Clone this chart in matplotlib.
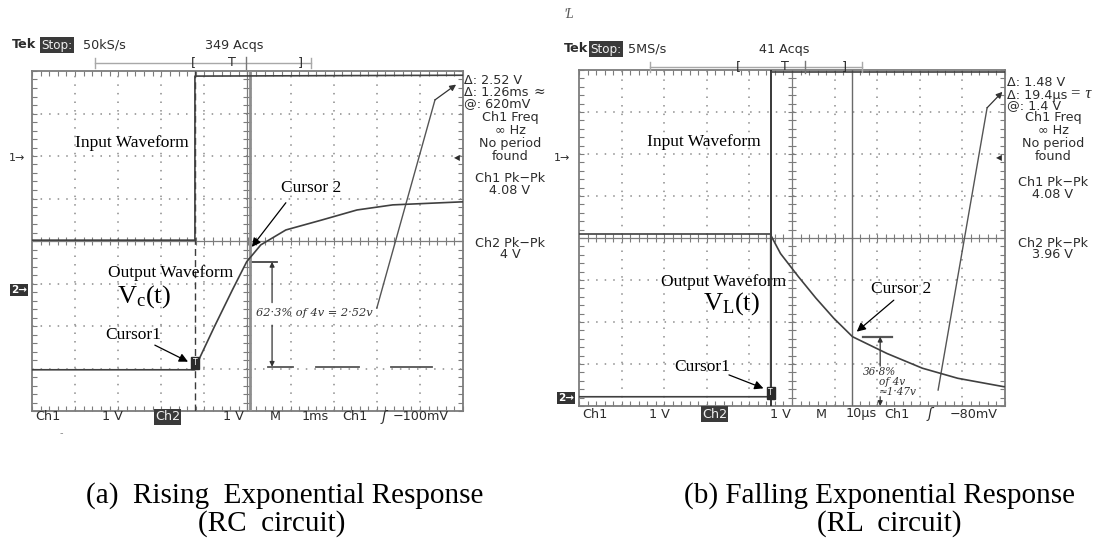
import numpy as np
import matplotlib.pyplot as plt
from matplotlib.lines import Line2D

plt.rcParams['mathtext.fontset'] = 'custom'
plt.rcParams['mathtext.rm'] = 'Liberation Serif'
plt.rcParams['mathtext.it'] = 'Liberation Serif:italic'

W, H = 1106, 550

# --- scope (a) RC circuit : x = screen divisions (1 ms/div), y = divisions ---
rc_in_t = [0.0, 3.78, 3.78, 10.0]
rc_in_v = [4.02, 4.02, 7.88, 7.90]
rc_out_t = [0.0, 3.78, 3.90, 4.23, 4.65, 4.98, 5.31, 5.89, 6.71, 7.54, 8.37, 9.95, 10.0]
rc_out_v = [0.97, 0.97, 1.27, 1.98, 2.85, 3.51, 3.91, 4.26, 4.49, 4.73, 4.85, 4.92, 4.92]
rc_cursor_t = [3.78, 5.06]
rc_cursor_v = [1.04, 3.51]
rc_ref_segs = [(5.48, 6.06), (6.59, 7.59), (8.33, 9.28)]

# --- scope (b) RL circuit : x = divisions (10 us/div) ---
rl_in_t = [0.0, 4.50, 4.50, 10.0]
rl_in_v = [4.10, 4.10, 7.95, 7.95]
rl_out_t = [0.0, 4.50, 4.50, 4.73, 5.15, 5.56, 5.98, 6.42, 7.23, 8.06, 8.89, 9.97, 10.0]
rl_out_v = [0.22, 0.22, 4.07, 3.63, 3.08, 2.57, 2.09, 1.65, 1.25, 0.90, 0.66, 0.46, 0.46]
rl_cursor_t = [4.50, 6.42]
rl_cursor_v = [0.0, 1.65]

rc_readout = ["Δ: 2.52 V", "Δ: 1.26ms", "@: 620mV"]
rl_readout = ["Δ: 1.48 V", "Δ: 19.4µs", "@: 1.4 V"]
freq_lines = ["Ch1 Freq", "∞ Hz", "No period", "found"]
rc_pkpk = ["Ch1 Pk−Pk", "4.08 V", "Ch2 Pk−Pk", "4 V"]
rl_pkpk = ["Ch1 Pk−Pk", "4.08 V", "Ch2 Pk−Pk", "3.96 V"]
rc_bottom = ["Ch1", "1 V", "Ch2", "1 V", "M", "1ms", "Ch1", "ʃ", "−100mV"]
rl_bottom = ["Ch1", "1 V", "Ch2", "1 V", "M", "10µs", "Ch1", "ʃ", "−80mV"]

TRACE = '#404040'
GRID = '#8c8c8c'
FRAME = '#7c7c7c'
SCOPE_FONT = dict(family='DejaVu Sans', fontsize=9.2, color='#2c2c2c')
SERIF = 'Liberation Serif'

fig = plt.figure(figsize=(W / 100, H / 100), dpi=100)
fig.patch.set_facecolor('white')


def px(x, y):
    return x / W, 1 - y / H


def ftext(x, y, s, **kw):
    opts = dict(SCOPE_FONT)
    opts.setdefault('va', 'center')
    opts.update(kw)
    return fig.text(*px(x, y), s, **opts)


def fline(xs, ys, **kw):
    fig.add_artist(Line2D([x / W for x in xs], [1 - y / H for y in ys], **kw))


def graticule(ax):
    ax.set_xlim(0, 10)
    ax.set_ylim(0, 8)
    for s in ax.spines.values():
        s.set_color(FRAME)
        s.set_linewidth(1.3)
    ax.set_xticks(np.arange(0, 10.01, 0.2))
    ax.set_yticks(np.arange(0, 8.01, 0.2))
    ax.tick_params(direction='in', length=3.5, width=0.8, color=FRAME,
                   top=True, right=True, labelbottom=False, labelleft=False)
    for i in range(1, 10):
        if i != 5:
            ax.axvline(i, color=GRID, lw=1.1, ls=(0, (1, 4.6)))
    for j in range(1, 8):
        if j != 4:
            ax.axhline(j, color=GRID, lw=1.1, ls=(0, (1, 4.6)))
    ax.axvline(5, color=FRAME, lw=0.9)
    ax.axhline(4, color=FRAME, lw=0.9)
    tx = np.arange(0.2, 10, 0.2)
    ax.plot(tx, np.full_like(tx, 4), ls='none', marker='|', ms=6, mew=0.8, color=FRAME)
    ty = np.arange(0.2, 8, 0.2)
    ax.plot(np.full_like(ty, 5), ty, ls='none', marker='_', ms=6, mew=0.8, color=FRAME)


def tbox(ax, x, y):
    ax.text(x, y, 'T', fontsize=5.5, color='white', ha='center', va='center',
            family='DejaVu Sans', zorder=6,
            bbox=dict(boxstyle='square,pad=0.2', fc='#2a2a2a', ec='#2a2a2a'))


def label_arrow(ax, tail, tip):
    ax.annotate('', xy=tip, xytext=tail, annotation_clip=False,
                arrowprops=dict(arrowstyle='-|>', color='black', lw=0.9,
                                mutation_scale=13, shrinkA=0, shrinkB=0))


def small_arrow(ax, tail, tip, ms=7):
    ax.annotate('', xy=tip, xytext=tail, annotation_clip=False,
                arrowprops=dict(arrowstyle='-|>', color='#333333', lw=0.9,
                                mutation_scale=ms, shrinkA=0, shrinkB=0))


def header(xs, y, rate, acqs_x, acqs, bar):
    ftext(xs[0], y, "Tek", weight='bold')
    ftext(xs[1], y, "Stop:", color='#f0f0f0', fontsize=8.6,
          bbox=dict(boxstyle='square,pad=0.12', fc='#3a3a3a', ec='none'))
    ftext(xs[2], y, rate)
    ftext(acqs_x, y, acqs)
    bx0, bx1, by, lb, tt, bar_mark, rb = bar
    fline([bx0, bx1], [by, by], color='#a8a8a8', lw=1.0)
    fline([bx0, bx0], [by - 5, by + 5], color='#a8a8a8', lw=1.0)
    fline([bx1, bx1], [by - 5, by + 5], color='#a8a8a8', lw=1.0)
    fline([bar_mark, bar_mark], [by - 6, by + 6], color='#777777', lw=1.0)
    ftext(lb, by, "[", ha='center')
    ftext(rb, by, "]", ha='center')
    ftext(tt, by, "T", ha='center')


def readout(x_left, x_mid, ys, lines3, pkpk):
    for y, s in zip(ys[:3], lines3):
        ftext(x_left, y, s)
    for y, s in zip(ys[3:7], freq_lines):
        ftext(x_mid, y, s, ha='center')
    for y, s in zip(ys[7:], pkpk):
        ftext(x_mid, y, s, ha='center')


def bottom_row(xs, y, labels):
    for x, s in zip(xs, labels):
        if s == "Ch2":
            ftext(x, y, s, color='#f0f0f0',
                  bbox=dict(boxstyle='square,pad=0.1', fc='#3a3a3a', ec='none'))
        elif s == "ʃ":
            ftext(x, y, s, style='italic', fontsize=10)
        else:
            ftext(x, y, s)


def handwriting(ax, x, y, s, size=8):
    ax.text(x, y, s, family='DejaVu Serif', style='italic', fontsize=size,
            color='#333333', va='center')


# ================= scope (a) =================
axL = fig.add_axes([32 / W, 1 - 411 / H, 431 / W, 340 / H])
graticule(axL)
axL.plot(rc_in_t, rc_in_v, color=TRACE, lw=1.2, zorder=4)
axL.plot(rc_out_t, rc_out_v, color=TRACE, lw=1.2, zorder=4)
axL.axvline(rc_cursor_t[0], color='#3c3c3c', lw=1.0, ls=(0, (5, 3)), zorder=3)
axL.axvline(rc_cursor_t[1], color='#8e8e8e', lw=2.0, zorder=3)
tbox(axL, rc_cursor_t[0], rc_cursor_v[0] + 0.09)

axL.plot([rc_cursor_t[1], rc_cursor_t[1] + 0.62], [rc_cursor_v[1]] * 2, color='#444444', lw=1.3)
for a, b in rc_ref_segs:
    axL.plot([a, b], [rc_cursor_v[0]] * 2, color='#555555', lw=1.3)
small_arrow(axL, (5.57, 2.55), (5.57, rc_cursor_v[1]))
small_arrow(axL, (5.57, 2.02), (5.57, rc_cursor_v[0]))
handwriting(axL, 5.20, 2.30, "62·3% of 4v = 2·52v", 8.2)
axL.plot([8.0, 9.35], [2.42, 7.32], color='#555555', lw=1.0, clip_on=False)
small_arrow(axL, (9.35, 7.32), (9.84, 7.68), ms=9)

axL.text(2.32, 6.31, "Input Waveform", family=SERIF, fontsize=12.5, ha='center', va='center')
axL.text(6.47, 5.25, "Cursor 2", family=SERIF, fontsize=12.5, ha='center', va='center')
label_arrow(axL, (5.89, 4.90), (5.10, 3.86))
axL.text(3.22, 3.25, "Output Waveform", family=SERIF, fontsize=12.5, ha='center', va='center')
axL.text(2.60, 2.70, r"$\mathrm{V_c(t)}$", fontsize=19, ha='center', va='center')
axL.text(2.34, 1.79, "Cursor1", family=SERIF, fontsize=12.5, ha='center', va='center')
label_arrow(axL, (2.85, 1.55), (3.62, 1.16))

header((12, 41, 83), 45, "50kS/s", 205, "349 Acqs", (95, 311, 63, 193, 232, 246, 300))
readout(464, 510, [81, 93, 104, 118, 131, 143, 156, 178, 190, 243, 255], rc_readout, rc_pkpk)
ftext(534, 92, "≈", family='DejaVu Serif', style='italic', fontsize=10)
ftext(17, 158, "1→", ha='center', fontsize=8)
ftext(19, 290, "2→", ha='center', fontsize=7.5, color='white', weight='bold',
      bbox=dict(boxstyle='square,pad=0.12', fc='#333333', ec='none'))
ftext(457, 158, "◀", ha='center', fontsize=5.5)
bottom_row([35, 102, 155, 223, 270, 302, 342, 382, 393], 417, rc_bottom)
ftext(60, 433, "-", color='#888888', fontsize=7)

# ================= scope (b) =================
axR = fig.add_axes([579 / W, 1 - 406 / H, 426 / W, 336 / H])
graticule(axR)
axR.plot(rl_in_t, rl_in_v, color=TRACE, lw=1.2, zorder=4)
axR.plot(rl_out_t, rl_out_v, color=TRACE, lw=1.2, zorder=4)
axR.axvline(rl_cursor_t[0], color='#333333', lw=1.4, zorder=3)
axR.axvline(rl_cursor_t[1], color='#6a6a6a', lw=1.0, zorder=3)
tbox(axR, rl_cursor_t[0], rl_cursor_v[0] + 0.31)

axR.plot([6.67, 7.35], [rl_cursor_v[1]] * 2, color='#555555', lw=1.6)
small_arrow(axR, (7.07, 0.95), (7.07, rl_cursor_v[1]))
small_arrow(axR, (7.07, 0.22), (7.07, rl_cursor_v[0]))
handwriting(axR, 6.66, 0.80, "36·8%", 7.6)
handwriting(axR, 7.05, 0.57, "of 4v", 7.6)
handwriting(axR, 7.05, 0.33, "≈1·47v", 7.6)
axR.plot([8.43, 9.58], [0.38, 7.10], color='#555555', lw=1.0, clip_on=False)
small_arrow(axR, (9.58, 7.10), (9.94, 7.48), ms=9)

axR.text(2.92, 6.29, "Input Waveform", family=SERIF, fontsize=12.5, ha='center', va='center')
axR.text(3.39, 2.95, "Output Waveform", family=SERIF, fontsize=12.5, ha='center', va='center')
axR.text(3.57, 2.45, r"$\mathrm{V_L(t)}$", fontsize=19, ha='center', va='center')
axR.text(7.55, 2.79, "Cursor 2", family=SERIF, fontsize=12.5, ha='center', va='center')
label_arrow(axR, (7.39, 2.52), (6.52, 1.77))
axR.text(2.88, 0.93, "Cursor1", family=SERIF, fontsize=12.5, ha='center', va='center')
label_arrow(axR, (3.52, 0.74), (4.33, 0.42))

header((564, 590, 628), 49, "5MS/s", 759, "41 Acqs", (650, 862, 67, 738, 785, 805, 844))
readout(1007, 1053, [83, 95, 106, 118, 131, 143, 157, 183, 195, 243, 255], rl_readout, rl_pkpk)
ftext(1070, 94, "= τ", family=SERIF, style='italic', fontsize=12)
ftext(562, 158, "1→", ha='center', fontsize=8)
ftext(566, 398, "2→", ha='center', fontsize=7.5, color='white', weight='bold',
      bbox=dict(boxstyle='square,pad=0.12', fc='#333333', ec='none'))
ftext(999, 158, "◀", ha='center', fontsize=5.5)
bottom_row([582, 649, 702, 770, 816, 846, 884, 928, 950], 414, rl_bottom)
ftext(563, 15, "ʹL", family=SERIF, style='italic', fontsize=10, color='#555555')

# ================= captions =================
cap = dict(family=SERIF, fontsize=21, color='black', ha='center', va='center')
fig.text(*px(285, 496), "(a)  Rising  Exponential Response", **cap)
fig.text(*px(272, 524), "(RC  circuit)", **cap)
fig.text(*px(879, 496), "(b) Falling Exponential Response", **cap)
fig.text(*px(889, 524), "(RL  circuit)", **cap)

fig.savefig("out.png", dpi=100, facecolor='white')
